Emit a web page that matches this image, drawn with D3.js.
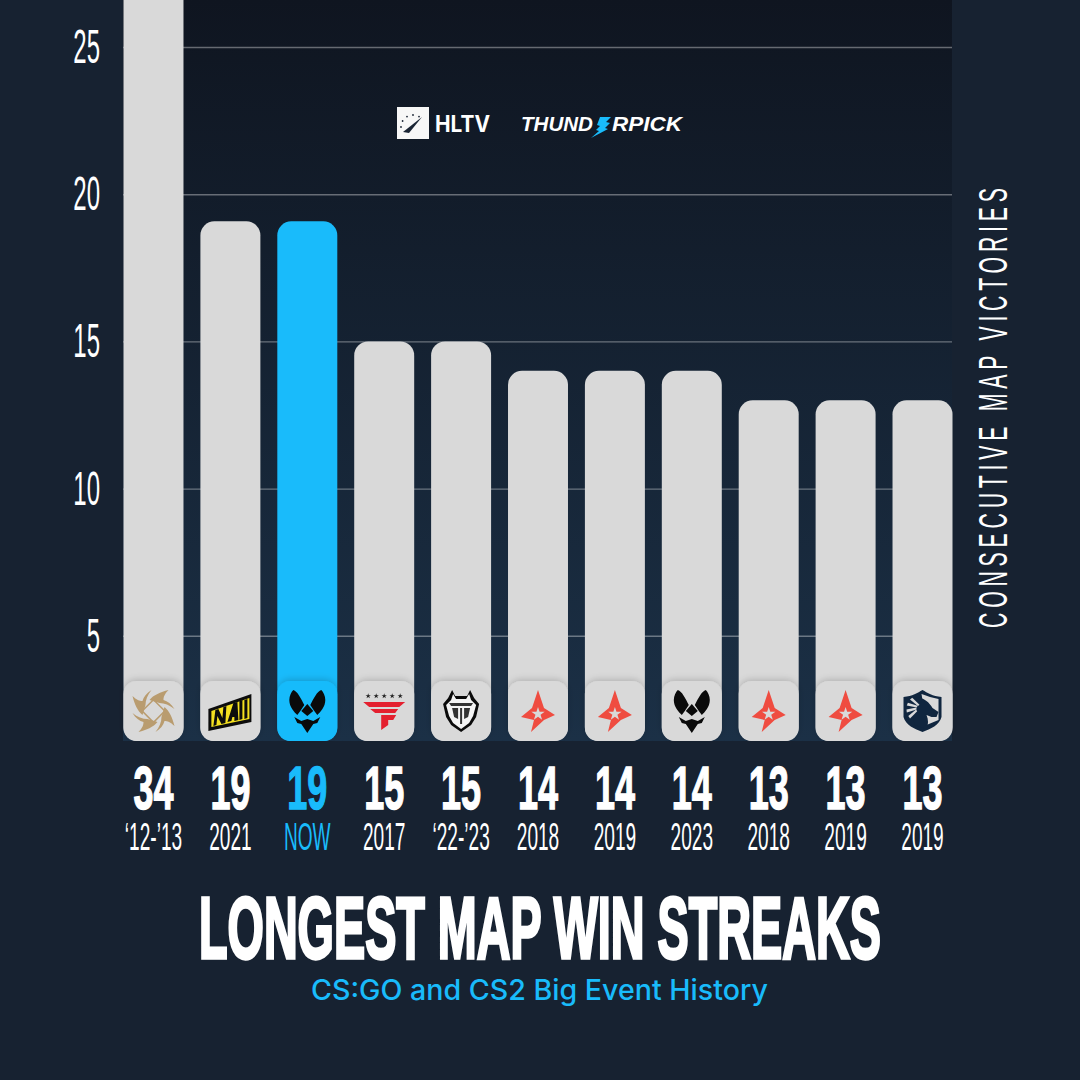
<!DOCTYPE html>
<html>
<head>
<meta charset="utf-8">
<style>
    html, body { margin: 0; padding: 0; background: #172231; }
    svg { display: block; }
</style>
<script src="https://cdn.jsdelivr.net/npm/d3@7"></script>
</head>
<body>
<div id="chart"></div>
<script>
var teams = ['nip', 'navi', 'vitality', 'faze', 'g2', 'astralis', 'astralis', 'vitality', 'astralis', 'astralis', 'liquid'];
var streaks = [34, 19, 19, 15, 15, 14, 14, 14, 13, 13, 13];
// bar tops as read against the gridlines, the 19s stand a little above their value
var barValues = [34, 19.08, 19.08, 15, 15, 14, 14, 14, 13, 13, 13];
var periods = ['‘12-’13', '2021', 'NOW', '2017', '‘22-’23', '2018', '2019', '2023', '2018', '2019', '2019'];
var yTicks = [5, 10, 15, 20, 25];
var highlight = 2;

var BLUE = '#19bbfb', GREY = '#d9d9d9', WHITE = '#ffffff';
var NARROW = '"Liberation Sans Narrow", "Liberation Sans"';
var size = 1080, panelBottom = 741;

var svg = d3.select('#chart').append('svg')
    .attr('width', size)
    .attr('height', size);

var defs = svg.append('defs');
var grad = defs.append('linearGradient')
    .attr('id', 'panel')
    .attr('x1', 0).attr('x2', 0).attr('y1', 0).attr('y2', 1);
grad.append('stop').attr('offset', '0%').attr('stop-color', '#0f1520');
grad.append('stop').attr('offset', '100%').attr('stop-color', '#1b3046');

var shadow = defs.append('filter')
    .attr('id', 'tileShadow')
    .attr('x', '-20%').attr('y', '-30%').attr('width', '140%').attr('height', '140%');
shadow.append('feDropShadow')
    .attr('dx', 0).attr('dy', -2).attr('stdDeviation', 3)
    .attr('flood-color', '#000').attr('flood-opacity', 0.16);

svg.append('rect').attr('width', size).attr('height', size).attr('fill', '#172231');

var x = d3.scaleBand()
    .domain(d3.range(teams.length))
    .range([123.5, 952.5])
    .paddingInner(0.22);

var y = d3.scaleLinear().domain([0, 25]).range([783, 47]);

svg.append('rect')
    .attr('x', 123).attr('y', 0)
    .attr('width', 829).attr('height', panelBottom)
    .attr('fill', 'url(#panel)');

// condensed text: no condensed face is installed, so squeeze a normal one
function squeezed(sel, cx, cy, sx) {
    return sel.attr('transform', 'translate(' + cx + ',' + cy + ') scale(' + sx + ',1)');
}

// same, but squeezed to a width
function fitted(sel, px, py, width) {
    return squeezed(sel, px, py, width / sel.node().getComputedTextLength());
}

// gridlines and tick labels
var axis = svg.append('g')
    .attr('transform', 'translate(123,0)')
    .call(d3.axisLeft(y).tickValues(yTicks).tickSize(-829).tickFormat(''));
axis.select('.domain').remove();
axis.selectAll('.tick line')
    .attr('stroke', '#ffffff')
    .attr('stroke-opacity', 0.36)
    .attr('stroke-width', 1.4);

svg.selectAll('.ylabel')
    .data(yTicks)
    .enter()
    .append('text')
    .attr('class', 'ylabel')
    .attr('text-anchor', 'end')
    .attr('font-family', NARROW)
    .attr('font-size', 48)
    .attr('fill', WHITE)
    .text(function(d) { return d; })
    .each(function(d) {
        squeezed(d3.select(this), 100, y(d) + 16, 0.5);
    });

// bars, the first one runs off the top of the picture
svg.selectAll('.bar')
    .data(barValues)
    .enter()
    .append('rect')
    .attr('class', 'bar')
    .attr('x', function(d, i) { return x(i); })
    .attr('y', function(d) { return y(d); })
    .attr('width', x.bandwidth())
    .attr('height', function(d) { return panelBottom - y(d); })
    .attr('rx', 14)
    .attr('fill', function(d, i) { return i === highlight ? BLUE : GREY; });

// logo tiles
svg.selectAll('.tile')
    .data(teams)
    .enter()
    .append('rect')
    .attr('class', 'tile')
    .attr('x', function(d, i) { return x(i); })
    .attr('y', panelBottom - x.bandwidth())
    .attr('width', x.bandwidth())
    .attr('height', x.bandwidth())
    .attr('rx', 13)
    .attr('filter', 'url(#tileShadow)')
    .attr('fill', function(d, i) { return i === highlight ? BLUE : GREY; });

var logos = {
    nip: function(g) {
        [0, 90, 180, 270].forEach(function(a) {
            g.append('path')
                .attr('transform', 'rotate(' + a + ')')
                .attr('d', 'M-4,-11 C0,-16 7,-19 15,-21 C11,-17 10,-14 10,-11 C14,-10 18,-7 21,-2 C16,-6 11,-8 6,-8 C3,-9 -1,-10 -4,-11 Z')
                .attr('fill', '#b99c6f');
        });
        g.append('rect')
            .attr('x', -8).attr('y', -8).attr('width', 16).attr('height', 16)
            .attr('transform', 'rotate(45)')
            .attr('fill', 'none')
            .attr('stroke', '#b99c6f')
            .attr('stroke-width', 1.5);
    },
    navi: function(g) {
        g.append('path').attr('d', 'M-22,-2 L21,-17 L21,11 L-22,20 Z').attr('fill', '#0c0c0c');
        g.append('path').attr('d', 'M-19,0 L19,-13 L19,8 L-19,16 Z').attr('fill', '#f4e020');
        g.append('path')
            .attr('d', 'M-17,15 L-15,-1 L-12,-2 L-8,7 L-7,-4 L-4,-5 L-5,12 L-9,13 L-13,5 L-14,14 Z M-3,11 L3,-8 L7,-9 L8,9 L4,10 L4,6 L2,6 L1,10 Z M9,-10 L12,-11 L12,8 L9,9 Z M14,-11 L17,-12 L17,7 L14,8 Z')
            .attr('fill', '#0c0c0c');
    },
    vitality: function(g) {
        g.append('path')
            .attr('d', 'M-14,-21 C-10,-20 -6,-12 -3,-6 L-7,0 L-10,4 C-13,1 -18,-4 -18,-11 C-18,-15 -16,-19 -14,-21 Z M14,-21 C10,-20 6,-12 3,-6 L7,0 L10,4 C13,1 18,-4 18,-11 C18,-15 16,-19 14,-21 Z M0,-7 L6,0 L0,5 L-6,0 Z M0,8 L6,10 L13,6 L10,12 L6,13 L0,22 L-6,13 L-10,12 L-13,6 L-6,10 Z')
            .attr('fill', '#0a0a0a');
    },
    faze: function(g) {
        g.append('path')
            .attr('d', 'M-21,-9 L21,-9 L15,-4 L-15,-4 Z M-14,-2 L14,-2 L11,2 L-9,2 Z M-3,4 L12,4 L9,9 L4,9 L4,14 L-3,19 Z')
            .attr('fill', '#e4202f');
        d3.range(5).forEach(function(i) {
            g.append('path')
                .attr('transform', 'translate(' + ((i - 2) * 8) + ',-15)')
                .attr('d', d3.symbol().type(d3.symbolStar).size(9)())
                .attr('fill', '#222');
        });
    },
    g2: function(g) {
        g.append('path')
            .attr('d', 'M-9,-21 L-6,-15 L6,-15 L9,-21 L13,-13 L18,-7 L15,6 L10,14 L0,21 L-10,14 L-15,6 L-18,-7 L-13,-13 Z')
            .attr('fill', '#0b0b0b');
        g.append('path')
            .attr('d', 'M-8,-17 L-5,-12 L5,-12 L8,-17 L10,-11 L15,-6 L12,5 L8,12 L0,18 L-8,12 L-12,5 L-15,-6 L-10,-11 Z')
            .attr('fill', '#f4f4f4');
        g.append('path')
            .attr('d', 'M-12,-8 L12,-8 L10,-5 L-10,-5 Z M-9,-3 L-3,-3 L-3,8 L-7,6 Z M9,-3 L3,-3 L3,8 L7,6 Z M-1,-3 L1,-3 L1,13 L-1,13 Z')
            .attr('fill', '#333');
    },
    astralis: function(g) {
        g.append('path')
            .attr('d', 'M0,-21 L6,-3 L17,4 L6,9 L-7,21 L-4,9 L-17,6 L-6,-3 Z')
            .attr('fill', '#ef4c40');
        g.append('path')
            .attr('d', d3.symbol().type(d3.symbolStar).size(55)())
            .attr('transform', 'translate(0,3)')
            .attr('fill', GREY);
    },
    liquid: function(g) {
        g.append('path')
            .attr('d', 'M-19,-14 C-10,-15 -5,-18 0,-21 C5,-18 10,-15 19,-14 L19,6 C17,14 8,18 0,21 C-8,18 -17,14 -19,6 Z')
            .attr('fill', '#10263f');
        g.append('path')
            .attr('d', 'M-1,-17 C5,-15 10,-13 16,-12 L16,9 L4,14 Z')
            .attr('fill', GREY);
        g.append('path')
            .attr('d', 'M-8,-14 C2,-14 7,-8 10,-3 L16,1 L14,6 L9,6 L4,4 C6,9 6,13 4,18 L-8,14 L-10,2 Z')
            .attr('fill', '#10263f');
        g.selectAll('.mane')
            .data(d3.range(4))
            .enter()
            .append('path')
            .attr('d', 'M-16,-3 L-6,-4 L-6,-2 L-16,0 Z')
            .attr('transform', function(d) { return 'rotate(' + (50 - d * 28) + ' -2 -2)'; })
            .attr('fill', GREY);
    }
};

svg.selectAll('.logo')
    .data(teams)
    .enter()
    .append('g')
    .attr('class', 'logo')
    .attr('transform', function(d, i) {
        return 'translate(' + (x(i) + x.bandwidth() / 2) + ',' + (panelBottom - x.bandwidth() / 2) + ')';
    })
    .each(function(d) {
        logos[d](d3.select(this));
    });

// value and period under every bar
svg.selectAll('.value')
    .data(streaks)
    .enter()
    .append('text')
    .attr('class', 'value')
    .attr('text-anchor', 'middle')
    .attr('font-family', '"Liberation Sans"')
    .attr('font-weight', 700)
    .attr('font-size', 62)
    .attr('fill', function(d, i) { return i === highlight ? BLUE : WHITE; })
    .attr('stroke', function(d, i) { return i === highlight ? BLUE : WHITE; })
    .attr('stroke-width', 1.4)
    .text(function(d) { return d; })
    .each(function(d, i) {
        squeezed(d3.select(this), x(i) + x.bandwidth() / 2, 809, 0.58);
    });

svg.selectAll('.period')
    .data(periods)
    .enter()
    .append('text')
    .attr('class', 'period')
    .attr('text-anchor', 'middle')
    .attr('font-family', NARROW)
    .attr('font-size', 39)
    .attr('fill', function(d, i) { return i === highlight ? BLUE : WHITE; })
    .text(function(d) { return d; })
    .each(function(d, i) {
        squeezed(d3.select(this), x(i) + x.bandwidth() / 2, 850, 0.49);
    });

// axis title on the right
svg.append('text')
    .attr('transform', 'translate(1007,628) rotate(-90) scale(0.52,1)')
    .attr('font-family', NARROW)
    .attr('font-size', 41)
    .attr('fill', WHITE)
    .attr('textLength', 846)
    .attr('lengthAdjust', 'spacing')
    .text('CONSECUTIVE MAP VICTORIES');

// title
svg.append('text')
    .attr('font-family', '"Liberation Sans"')
    .attr('font-weight', 700)
    .attr('font-size', 88)
    .attr('fill', WHITE)
    .attr('stroke', WHITE)
    .attr('stroke-width', 3.4)
    .text('LONGEST MAP WIN STREAKS')
    .call(fitted, 199, 958, 682);

svg.append('text')
    .attr('font-family', 'Inter, "Noto Sans"')
    .attr('font-weight', 500)
    .attr('font-size', 28)
    .attr('fill', BLUE)
    .text('CS:GO and CS2 Big Event History')
    .call(fitted, 311, 1000, 457);

// sponsor marks
var hltv = svg.append('g').attr('transform', 'translate(397,107)');
hltv.append('rect').attr('width', 32).attr('height', 32).attr('fill', '#f7f7f7');
hltv.append('path')
    .attr('d', 'M6,25 L25,10 L12,26 Z')
    .attr('fill', '#1a2434');
hltv.selectAll('circle')
    .data(d3.range(5))
    .enter()
    .append('circle')
    .attr('cx', function(d) { return 16 + 12 * Math.cos(Math.PI * (1 + d / 6)); })
    .attr('cy', function(d) { return 20 + 12 * Math.sin(Math.PI * (1 + d / 6)); })
    .attr('r', 0.9)
    .attr('fill', '#1a2434');
svg.append('text')
    .attr('font-family', 'Inter, "Liberation Sans"')
    .attr('font-weight', 700)
    .attr('font-size', 23)
    .attr('fill', WHITE)
    .text('HLTV')
    .call(fitted, 435, 132, 55);

function thunderText(t, px, len) {
    svg.append('text')
        .attr('font-family', '"Liberation Sans"')
        .attr('font-weight', 700)
        .attr('font-style', 'italic')
        .attr('font-size', 20)
        .attr('fill', WHITE)
        .text(t)
        .call(fitted, px, 131, len);
}
thunderText('THUND', 521, 72);
thunderText('RPICK', 612, 70);
svg.append('path')
    .attr('transform', 'translate(591,117)')
    .attr('d', 'M9,0 L20,0 L15,5 L19,6 L14,11 L17,12 L0,21 L8,14 L5,13 L9,9 L6,8 Z')
    .attr('fill', BLUE);
</script>
</body>
</html>
